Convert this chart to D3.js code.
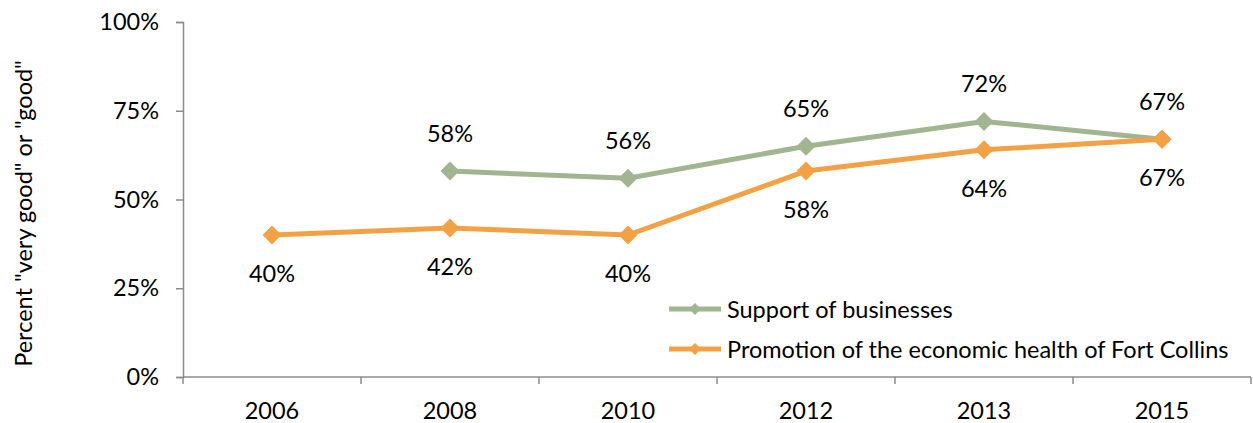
<!DOCTYPE html>
<html>
<head>
<meta charset="utf-8">
<script src="https://cdn.jsdelivr.net/npm/d3@7"></script>
<style>
  html, body { margin: 0; padding: 0; background: #fff; }
  svg { display: block; font-family: "Lato", "Open Sans", sans-serif; }
</style>
</head>
<body>
<svg id="chart" width="1253" height="423"></svg>
<script>
// Survey years and ratings (percent "very good" or "good")
const years = ["2006", "2008", "2010", "2012", "2013", "2015"];
const supportValues = [null, 58, 56, 65, 72, 67];
const promotionValues = [40, 42, 40, 58, 64, 67];
const yTicks = [0, 25, 50, 75, 100];
const seriesNames = ["Support of businesses", "Promotion of the economic health of Fort Collins"];

const svg = d3.select("#chart");
const margin = { left: 183, right: 2, top: 22, bottom: 46 };
const W = 1253, H = 423;

const x = d3.scaleBand().domain(years).range([margin.left, W - margin.right]);
const y = d3.scaleLinear().domain([0, 100]).range([H - margin.bottom, margin.top]);

const axisColor = "#8c8c8c";
const fontSize = 23.5;

// Y axis
const yAxis = svg.append("g")
  .attr("transform", `translate(${margin.left},0)`)
  .call(d3.axisLeft(y).tickValues(yTicks).tickSize(7).tickPadding(17).tickFormat(d => d + "%"));
yAxis.select(".domain").attr("stroke", axisColor).attr("stroke-width", 1.5);
yAxis.selectAll(".tick line").attr("stroke", axisColor).attr("stroke-width", 1.5);
yAxis.selectAll("text").attr("font-size", fontSize).attr("fill", "#000").attr("font-family", "Lato, sans-serif");

// X axis: ticks sit on band boundaries, labels at band centres
const xAxisG = svg.append("g").attr("transform", `translate(0,${y(0)})`);
xAxisG.append("line")
  .attr("x1", margin.left).attr("x2", W - margin.right)
  .attr("stroke", axisColor).attr("stroke-width", 1.5);
const boundaries = years.map(d => x(d)).concat([x(years[years.length - 1]) + x.bandwidth()]);
xAxisG.selectAll("line.tk").data(boundaries).join("line")
  .attr("class", "tk")
  .attr("x1", d => d).attr("x2", d => d)
  .attr("y1", 0).attr("y2", 7)
  .attr("stroke", axisColor).attr("stroke-width", 1.5);
xAxisG.selectAll("text").data(years).join("text")
  .attr("x", d => x(d) + x.bandwidth() / 2)
  .attr("y", 33)
  .attr("text-anchor", "middle")
  .attr("dominant-baseline", "central")
  .attr("font-size", fontSize)
  .text(d => d);

// Y axis title
svg.append("text")
  .attr("transform", `translate(23,${(y(0) + y(100)) / 2 + 14}) rotate(-90)`)
  .attr("text-anchor", "middle")
  .attr("dominant-baseline", "central")
  .attr("font-size", fontSize)
  .text('Percent "very good" or "good"');

const green = "#a0b590";
const orange = "#f2a144";

const cx = d => x(d) + x.bandwidth() / 2;

function drawSeries(values, color, labelOffset) {
  const pts = years.map((yr, i) => ({ yr, v: values[i] }));
  const line = d3.line()
    .defined(d => d.v != null)
    .x(d => cx(d.yr))
    .y(d => y(d.v));
  svg.append("path")
    .datum(pts)
    .attr("d", line)
    .attr("fill", "none")
    .attr("stroke", color)
    .attr("stroke-width", 5)
    .attr("stroke-linejoin", "round");
  const valid = pts.filter(d => d.v != null);
  svg.append("g").selectAll("path").data(valid).join("path")
    .attr("d", d3.symbol().type(d3.symbolSquare).size(180))
    .attr("transform", d => `translate(${cx(d.yr)},${y(d.v)}) rotate(45)`)
    .attr("fill", color);
  svg.append("g").selectAll("text").data(valid).join("text")
    .attr("x", d => cx(d.yr))
    .attr("y", d => y(d.v) + labelOffset)
    .attr("text-anchor", "middle")
    .attr("dominant-baseline", "central")
    .attr("font-size", fontSize)
    .text(d => d.v + "%");
}

drawSeries(supportValues, green, -38);
drawSeries(promotionValues, orange, 38);

// Legend
const legend = svg.append("g");
const legendItems = [
  { name: seriesNames[0], color: green, y: 309 },
  { name: seriesNames[1], color: orange, y: 349 }
];
legendItems.forEach(it => {
  legend.append("line")
    .attr("x1", 669).attr("x2", 721)
    .attr("y1", it.y).attr("y2", it.y)
    .attr("stroke", it.color).attr("stroke-width", 5);
  legend.append("path")
    .attr("d", d3.symbol().type(d3.symbolSquare).size(70)())
    .attr("transform", `translate(695,${it.y}) rotate(45)`)
    .attr("fill", it.color);
  legend.append("text")
    .attr("x", 727).attr("y", it.y)
    .attr("dominant-baseline", "central")
    .attr("font-size", fontSize)
    .text(it.name);
});
</script>
</body>
</html>
